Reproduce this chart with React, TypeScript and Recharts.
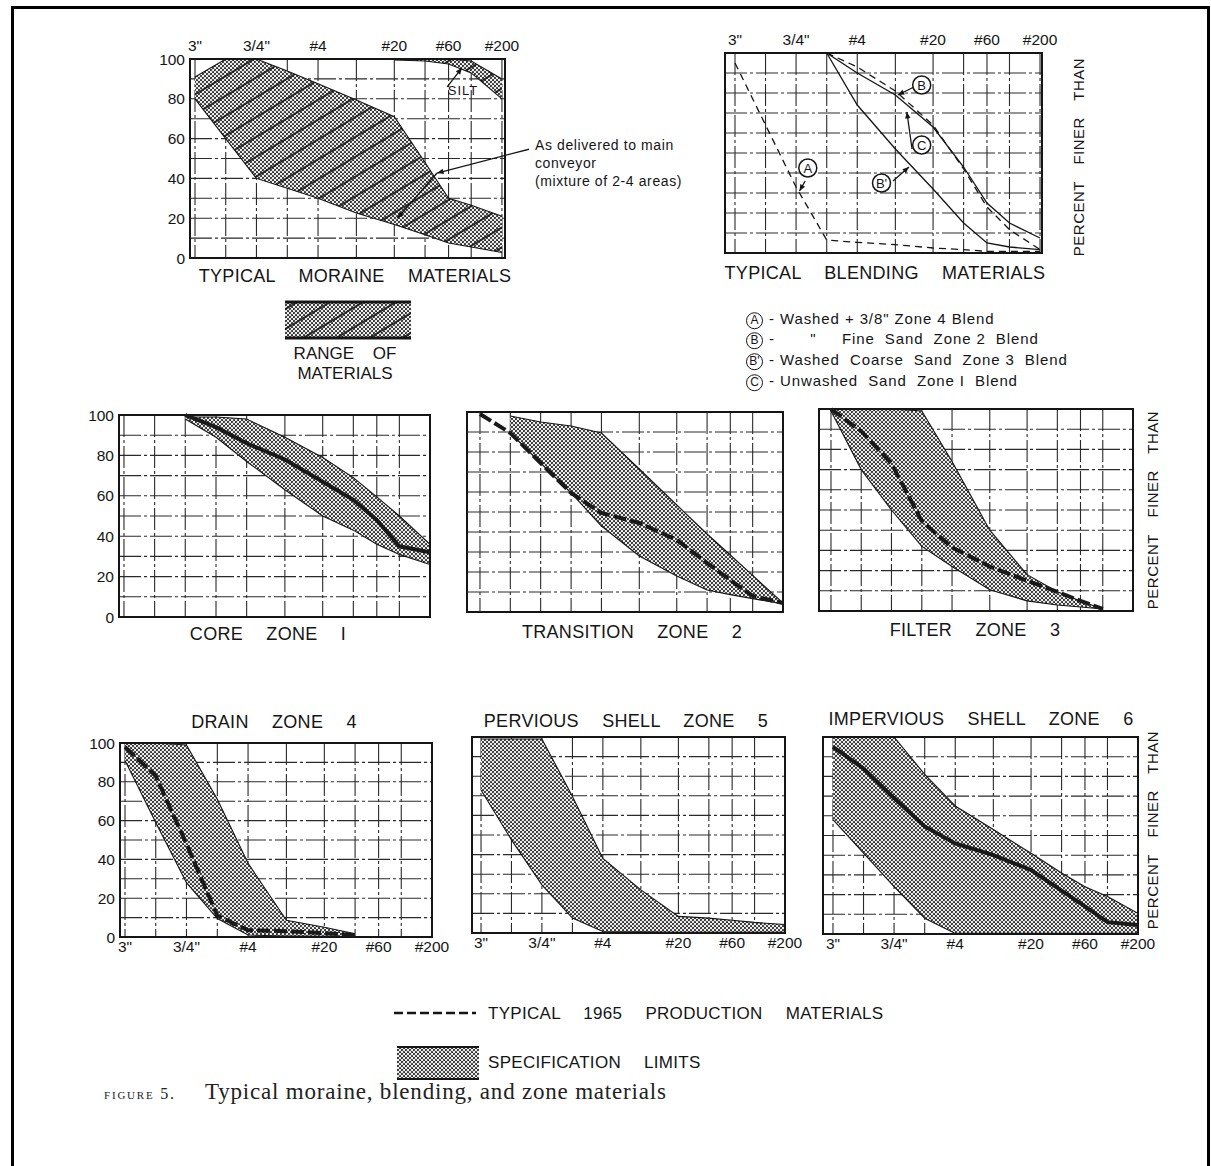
import React from 'react'
import { ComposedChart, Area, Line, XAxis, YAxis, CartesianGrid, ReferenceArea, ReferenceDot, ReferenceLine } from 'recharts'

// sieve openings (mm), left to right on the log axis
const sieveNames = ['3"', '1 1/2"', '3/4"', '3/8"', '#4', '#10', '#20', '#40', '#60', '#100', '#200']
const sieveMm = [76.2, 38.1, 19.05, 9.5, 4.75, 2.0, 0.85, 0.425, 0.25, 0.15, 0.075]
const labeledSieves = ['3"', '3/4"', '#4', '#20', '#60', '#200']
const percentTicks = [0, 10, 20, 30, 40, 50, 60, 70, 80, 90, 100]

// typical moraine materials
const moraineUpper = [91, 100, 100, 94, 87.6, 79.4, 71, 48, 30, 26.5, 21]
const moraineLower = [80, 60, 40, 35, 30, 22.6, 16.8, 11.7, 7.5, 5.5, 2.8]
const siltUpper = [null, null, null, null, null, null, 100, 100, 100, 99, 90]
const siltLower = [null, null, null, null, null, null, 99.5, 99, 97.5, 93, 80]

// typical blending materials
const blendA = [95, 64, 33, 6.5, 5.3, 4.2, 2.5, 1.7, 0.8, 0.8, 0.8]
const blendB = [null, null, null, 100, 93, 81, 64, 42, 23, 11.7, 1.7]
const blendC = [null, null, null, 100, 90, 79, 63, 43, 25, 15, 7.5]
const blendB2 = [null, null, null, 100, 74, 52, 32, 15, 5, 3, 1.7]

// zones: spec limits + typical 1965 production
const coreUpper = [null, null, 99, 99, 98, 89, 79, 69, 59.5, 50, 36]
const coreLower = [null, null, 98, 89, 77, 63, 50, 43, 36, 31, 26]
const coreTypical = [null, null, 100, 94, 86, 78, 67, 58, 48, 35, 32]

const transUpper = [null, 98, 95, 93, 89.5, 71.5, 53.5, 39, 28.5, 18.3, 4.5]
const transLower = [null, 89.5, 74.5, 59.5, 43, 28, 18, 11, 8.7, 6.7, 4]
const transTypical = [99, 89.5, 74.5, 59.5, 49.5, 44.5, 36, 24.5, 16, 8, 4.5]

const filterUpper = [100, 100, 100, 99, 74, 40, 18, 9.5, 5, 1, null]
const filterLower = [99, 70, 50, 32, 22, 10.5, 5, 3, 2, 1, null]
const filterTypical = [100, 89, 73, 44.5, 31.5, 22, 15, 9.5, 5, 1, null]

const drainUpper = [100, 100, 99, 71, 38, 8.6, 5, 1.7, null, null, null]
const drainLower = [91, 59, 28, 9.5, 1, 0.5, 0.3, 0.2, null, null, null]
const drainTypical = [98, 83, 48, 11, 3.5, 3, 2, 1, null, null, null]

const perviousUpper = [99, 99, 99, 69.7, 38, 22, 8.5, 7.6, 6.5, 5.4, 4.3]
const perviousLower = [73, 47.5, 24.6, 7.6, 0.8, 0.6, 0.4, 0.3, 0.3, 0.3, 0.3]

const imperviousUpper = [100, 100, 100, 81, 65, 53, 41, 31, 24, 19, 10.5]
const imperviousLower = [58, 41, 24, 8, 0.3, 0.3, 0.3, 0.3, 0.3, 0.3, 0.3]
const imperviousTypical = [95, 84, 69, 54.6, 46, 40, 32.5, 22, 14, 6, 4.6]

const ink = '#151515'
const SANS = '"Liberation Sans", Arial, sans-serif'
const SERIF = '"Liberation Serif", "DejaVu Serif", serif'

const band = (lo: (number | null)[], hi: (number | null)[]) =>
  sieveMm.map((x, i) => ({ x, range: [lo[i], hi[i]] })).filter(d => d.range[0] != null && d.range[1] != null)
const curve = (v: (number | null)[]) => sieveMm.map((x, i) => ({ x, y: v[i] })).filter(d => d.y != null)

const ML = 60, MR = 24, MT = 34, MB = 34, XH = 24, YW = 44

const arrowShape = (p: any) => {
  const { x1, y1, x2, y2 } = p
  if (x1 == null) return <g />
  const a = Math.atan2(y2 - y1, x2 - x1)
  const s = 7
  const h1 = [x2 - s * Math.cos(a - 0.4), y2 - s * Math.sin(a - 0.4)]
  const h2 = [x2 - s * Math.cos(a + 0.4), y2 - s * Math.sin(a + 0.4)]
  return (
    <g>
      <line x1={x1} y1={y1} x2={x2} y2={y2} stroke={ink} strokeWidth={1.3} />
      <path d={`M${x2},${y2}L${h1[0]},${h1[1]}L${h2[0]},${h2[1]}Z`} fill={ink} />
    </g>
  )
}

const circled = (letter: string) => (p: any) => (
  <g>
    <circle cx={p.cx} cy={p.cy} r={9} fill="#fff" stroke={ink} strokeWidth={1.5} />
    <text x={p.cx} y={p.cy + 5} textAnchor="middle" fontSize={13} fontFamily={SANS} fill={ink}>{letter}</text>
  </g>
)

function Panel({ l, t, w, h, xMax, xMin = 0.075, xLabels, yLabels, children }: any) {
  const top = xLabels === 'top'
  const margin = { left: ML - YW, right: MR, top: MT - (top ? XH : 0), bottom: MB - (top ? 0 : XH) }
  return (
    <div style={{ position: 'absolute', left: l - ML, top: t - MT }}>
      <ComposedChart width={w + ML + MR} height={h + MT + MB} margin={margin}>
        <CartesianGrid stroke="#2a2a2a" strokeWidth={1.1} strokeDasharray="22 3 3 3" />
        <XAxis type="number" dataKey="x" scale="log" domain={[xMin, xMax]} reversed allowDataOverflow
          ticks={sieveMm} interval={0} orientation={top ? 'top' : 'bottom'} height={XH}
          axisLine={false} tickLine={false} tickSize={2} tickMargin={top ? 6 : 2}
          tick={{ fill: ink, fontSize: 15.5, fontFamily: SANS }}
          tickFormatter={(v: number) => {
            const name = sieveNames[sieveMm.indexOf(v)]
            return xLabels !== 'none' && labeledSieves.includes(name) ? name : ''
          }} />
        <YAxis type="number" domain={[0, 100]} ticks={percentTicks} interval={0} width={YW}
          axisLine={false} tickLine={false} tickSize={2} tickMargin={3}
          tick={{ fill: ink, fontSize: 15.5, fontFamily: SANS }}
          tickFormatter={(v: number) => (yLabels && v % 20 === 0 ? String(v) : '')} />
        {children}
        <ReferenceArea x1={xMax} x2={xMin} y1={0} y2={100} fill="none" stroke={ink} strokeWidth={2} ifOverflow="visible" />
      </ComposedChart>
    </div>
  )
}

const specBand = (lo: any, hi: any) => (
  <Area type="linear" data={band(lo, hi)} dataKey="range" fill="url(#dots)" fillOpacity={1}
    stroke={ink} strokeWidth={1.1} dot={false} activeDot={false} isAnimationActive={false} />
)
const typical = (v: any, dashed: boolean) => (
  <Line type="linear" data={curve(v)} dataKey="y" stroke="#1a1a1a" strokeWidth={4}
    strokeDasharray={dashed ? '13 4' : undefined} dot={false} activeDot={false} isAnimationActive={false} />
)

function Txt({ x, y, size = 18, center = true, style, children }: any) {
  return (
    <div style={{ position: 'absolute', left: x, top: y, transform: `translate(${center ? '-50%' : '0'}, -50%)`,
      fontFamily: SANS, fontSize: size, color: ink, whiteSpace: 'pre', lineHeight: 1, ...style }}>
      {children}
    </div>
  )
}

const Circ = ({ c }: any) => (
  <span style={{ display: 'inline-flex', alignItems: 'center', justifyContent: 'center', width: 15, height: 15,
    border: `1.5px solid ${ink}`, borderRadius: '50%', fontSize: 12, marginRight: 6, verticalAlign: 'middle', letterSpacing: 0 }}>{c}</span>
)

const pft = { fontSize: 15, wordSpacing: 12, letterSpacing: 0.5 }
const legendTxt = { letterSpacing: 0.9 }

export default function App() {
  const title = { wordSpacing: 18, letterSpacing: 0.3 }
  return (
    <div style={{ position: 'absolute', left: 0, top: 0, width: 1211, height: 1166, background: '#fff', overflow: 'hidden' }}>
      <svg width={0} height={0} style={{ position: 'absolute' }}>
        <defs>
          <pattern id="dots" width="4" height="4" patternUnits="userSpaceOnUse">
            <rect width="4" height="4" fill="#ececec" />
            <circle cx="1" cy="1" r="1.05" fill="#2a2a2a" />
            <circle cx="3" cy="3" r="1.05" fill="#2a2a2a" />
          </pattern>
          <pattern id="hatch" width="17" height="17" patternUnits="userSpaceOnUse" patternTransform="rotate(-31)">
            <line x1="0" y1="8" x2="17" y2="8" stroke="#111" strokeWidth="1.6" />
          </pattern>
        </defs>
      </svg>
      <div style={{ position: 'absolute', left: 11, top: 6, width: 1193, height: 1180, borderTop: '3px solid #000', borderLeft: '3px solid #000', borderRight: '3px solid #000' }} />

      {/* typical moraine materials */}
      <Panel l={190} t={59} w={315} h={199} xMax={85.3} xMin={0.07} xLabels="top" yLabels>
        {specBand(moraineLower, moraineUpper)}
        <Area type="linear" data={band(moraineLower, moraineUpper)} dataKey="range" fill="url(#hatch)" fillOpacity={1}
          stroke="none" dot={false} activeDot={false} isAnimationActive={false} />
        {specBand(siltLower, siltUpper)}
        <Area type="linear" data={band(siltLower, siltUpper)} dataKey="range" fill="url(#hatch)" fillOpacity={1}
          stroke="none" dot={false} activeDot={false} isAnimationActive={false} />
        <ReferenceLine segment={[{ x: 0.258, y: 86 }, { x: 0.185, y: 95.5 }]} ifOverflow="visible" shape={arrowShape} />
        <ReferenceLine segment={[{ x: 0.0383, y: 55 }, { x: 0.324, y: 42.7 }]} ifOverflow="visible" shape={arrowShape} />
        <ReferenceLine segment={[{ x: 0.324, y: 42.7 }, { x: 0.793, y: 20 }]} ifOverflow="visible" shape={arrowShape} />
      </Panel>
      <Txt x={463} y={90} size={13} style={{ letterSpacing: 1 }}>SILT</Txt>
      <Txt x={535} y={145} size={14} center={false} style={{ letterSpacing: 0.6 }}>As delivered to main</Txt>
      <Txt x={535} y={163} size={14} center={false} style={{ letterSpacing: 0.6 }}>conveyor</Txt>
      <Txt x={535} y={181} size={14} center={false} style={{ letterSpacing: 0.6 }}>(mixture of 2-4 areas)</Txt>
      <Txt x={355} y={276} style={title}>TYPICAL MORAINE MATERIALS</Txt>

      <svg style={{ position: 'absolute', left: 285, top: 300 }} width={126} height={40}>
        <rect x={0} y={2} width={126} height={36} fill="url(#dots)" />
        <rect x={0} y={2} width={126} height={36} fill="url(#hatch)" />
        <line x1={0} y1={2} x2={126} y2={2} stroke={ink} strokeWidth={3} />
        <line x1={0} y1={38} x2={126} y2={38} stroke={ink} strokeWidth={3} />
      </svg>
      <Txt x={345} y={353} size={17} style={{ wordSpacing: 14 }}>RANGE OF</Txt>
      <Txt x={345} y={373} size={17}>MATERIALS</Txt>

      {/* typical blending materials */}
      <Panel l={725} t={53} w={317} h={200} xMax={95.6} xMin={0.0717} xLabels="top">
        <Line type="linear" data={curve(blendA)} dataKey="y" stroke={ink} strokeWidth={1.3} strokeDasharray="7 5" dot={false} activeDot={false} isAnimationActive={false} />
        <Line type="linear" data={curve(blendB)} dataKey="y" stroke={ink} strokeWidth={1.3} strokeDasharray="7 5" dot={false} activeDot={false} isAnimationActive={false} />
        <Line type="linear" data={curve(blendC)} dataKey="y" stroke={ink} strokeWidth={1.3} dot={false} activeDot={false} isAnimationActive={false} />
        <Line type="linear" data={curve(blendB2)} dataKey="y" stroke={ink} strokeWidth={1.3} dot={false} activeDot={false} isAnimationActive={false} />
        <ReferenceLine segment={[{ x: 15.5, y: 36 }, { x: 17.6, y: 31 }]} ifOverflow="visible" shape={arrowShape} />
        <ReferenceLine segment={[{ x: 1.31, y: 83 }, { x: 1.89, y: 79 }]} ifOverflow="visible" shape={arrowShape} />
        <ReferenceLine segment={[{ x: 1.37, y: 52 }, { x: 1.54, y: 70.5 }]} ifOverflow="visible" shape={arrowShape} />
        <ReferenceLine segment={[{ x: 2.11, y: 36 }, { x: 1.47, y: 43 }]} ifOverflow="visible" shape={arrowShape} />
        <ReferenceDot x={14.6} y={42.5} r={9} shape={circled('A')} ifOverflow="visible" />
        <ReferenceDot x={1.1} y={84} r={9} shape={circled('B')} ifOverflow="visible" />
        <ReferenceDot x={1.1} y={54} r={9} shape={circled('C')} ifOverflow="visible" />
        <ReferenceDot x={2.74} y={35} r={9} shape={circled("B'")} ifOverflow="visible" />
      </Panel>
      <Txt x={885} y={273} style={title}>TYPICAL BLENDING MATERIALS</Txt>
      <Txt x={1078} y={157} style={{ ...pft, transform: 'translate(-50%, -50%) rotate(-90deg)' }}>PERCENT FINER THAN</Txt>

      <Txt x={746} y={320} size={15} center={false} style={legendTxt}><Circ c="A" />{'- Washed + 3/8" Zone 4 Blend'}</Txt>
      <Txt x={746} y={340} size={15} center={false} style={legendTxt}><Circ c="B" />{'-       "     Fine  Sand  Zone 2  Blend'}</Txt>
      <Txt x={746} y={361} size={15} center={false} style={legendTxt}><Circ c="B'" />{'- Washed  Coarse  Sand  Zone 3  Blend'}</Txt>
      <Txt x={746} y={382} size={15} center={false} style={legendTxt}><Circ c="C" />{'- Unwashed  Sand  Zone I  Blend'}</Txt>

      {/* middle row */}
      <Panel l={119} t={415} w={311} h={202} xMax={85.3} xLabels="none" yLabels>
        {specBand(coreLower, coreUpper)}
        {typical(coreTypical, false)}
      </Panel>
      <Txt x={268} y={634} style={title}>CORE ZONE I</Txt>

      <Panel l={467} t={412} w={316} h={200} xMax={102.5} xLabels="none">
        {specBand(transLower, transUpper)}
        {typical(transTypical, true)}
      </Panel>
      <Txt x={632} y={632} style={title}>TRANSITION ZONE 2</Txt>

      <Panel l={819} t={409} w={314} h={202} xMax={100.3} xLabels="none">
        {specBand(filterLower, filterUpper)}
        {typical(filterTypical, true)}
      </Panel>
      <Txt x={975} y={630} style={title}>FILTER ZONE 3</Txt>
      <Txt x={1152} y={510} style={{ ...pft, transform: 'translate(-50%, -50%) rotate(-90deg)' }}>PERCENT FINER THAN</Txt>

      {/* bottom row */}
      <Txt x={274} y={722} style={title}>DRAIN ZONE 4</Txt>
      <Panel l={120} t={743} w={312} h={194} xMax={85.3} xLabels="bottom" yLabels>
        {specBand(drainLower, drainUpper)}
        {typical(drainTypical, true)}
      </Panel>

      <Txt x={626} y={721} style={title}>PERVIOUS SHELL ZONE 5</Txt>
      <Panel l={472} t={737} w={313} h={196} xMax={93.6} xLabels="bottom">
        {specBand(perviousLower, perviousUpper)}
      </Panel>

      <Txt x={981} y={719} style={title}>IMPERVIOUS SHELL ZONE 6</Txt>
      <Panel l={823} t={737} w={315} h={197} xMax={95.6} xLabels="bottom">
        {specBand(imperviousLower, imperviousUpper)}
        {typical(imperviousTypical, false)}
      </Panel>
      <Txt x={1152} y={830} style={{ ...pft, transform: 'translate(-50%, -50%) rotate(-90deg)' }}>PERCENT FINER THAN</Txt>

      {/* legend */}
      <svg style={{ position: 'absolute', left: 394, top: 1006 }} width={84} height={14}>
        <line x1={0} y1={7} x2={82} y2={7} stroke={ink} strokeWidth={2.5} strokeDasharray="9 4" />
      </svg>
      <Txt x={488} y={1013} size={17} center={false} style={title}>TYPICAL 1965 PRODUCTION MATERIALS</Txt>
      <svg style={{ position: 'absolute', left: 397, top: 1045 }} width={82} height={36}>
        <rect x={0} y={2} width={82} height={32} fill="url(#dots)" />
        <line x1={0} y1={2} x2={82} y2={2} stroke={ink} strokeWidth={2} />
        <line x1={0} y1={34} x2={82} y2={34} stroke={ink} strokeWidth={2} />
      </svg>
      <Txt x={488} y={1062} size={17} center={false} style={title}>SPECIFICATION LIMITS</Txt>

      <div style={{ position: 'absolute', left: 104, top: 1094, transform: 'translateY(-50%)', fontFamily: SERIF, color: '#222', whiteSpace: 'pre', fontSize: 16, fontVariant: 'small-caps', letterSpacing: 1.8, lineHeight: 1 }}>
        {'figure 5.'}
      </div>
      <div style={{ position: 'absolute', left: 205, top: 1091, transform: 'translateY(-50%)', fontFamily: SERIF, color: '#222', whiteSpace: 'pre', fontSize: 23, letterSpacing: 0.8, lineHeight: 1 }}>
        Typical moraine, blending, and zone materials
      </div>
    </div>
  )
}
